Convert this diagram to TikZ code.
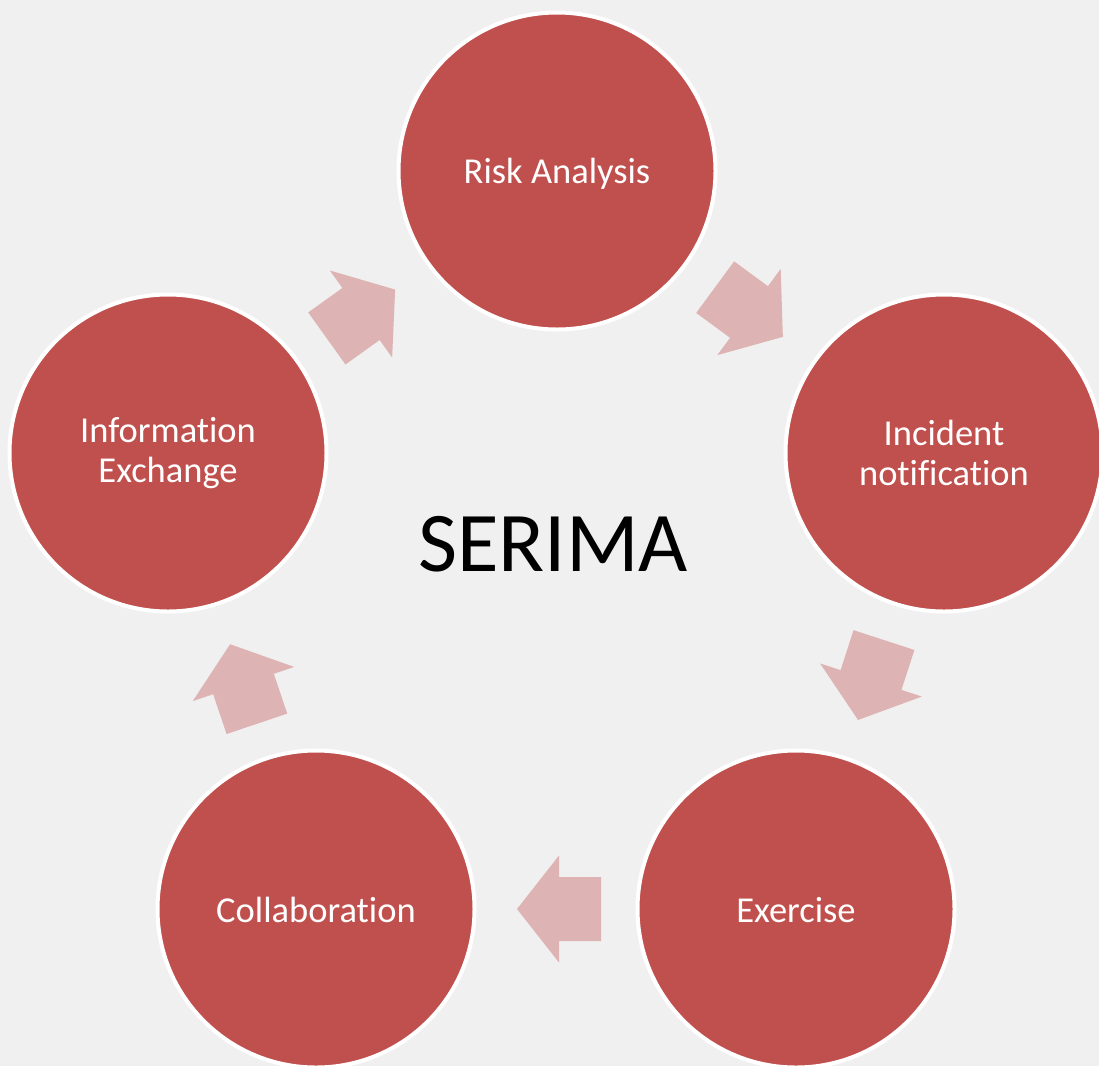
\documentclass[tikz,border=0pt]{standalone}
\usepackage{fontspec}
\setmainfont{Carlito}[RawFeature=-liga]
\definecolor{bgc}{HTML}{F0F0F0}
\definecolor{circfill}{HTML}{C0504D}
\definecolor{arrfill}{HTML}{DEB3B3}
\tikzset{
  stage/.style={circle, fill=circfill, draw=white, line width=4pt, minimum size=317pt, inner sep=0pt},
  stagetext/.style={text=white, align=center, inner sep=0pt, font=\fontsize{36.5}{40}\selectfont},
  blockarrow/.pic={
    \fill[arrfill] (-42,-32) -- (0,-32) -- (0,-53.5) -- (42,0) -- (0,53.5) -- (0,32) -- (-42,32) -- cycle;
  }
}
\begin{document}
\begin{tikzpicture}[x=1pt,y=-1pt]
\fill[bgc] (0,0) rectangle (1099,1066);
\useasboundingbox (0,0) rectangle (1099,1066);

\node[stage] (risk) at (557,171) {};
\node[stage] (incident) at (944,453) {};
\node[stage] (exercise) at (796,909) {};
\node[stage] (collab) at (316,909) {};
\node[stage] (info) at (168,453) {};

\node[stagetext] (riskt) at (557,174) {Risk Analysis};
\node[stagetext] (incidentt) at (944,453) {Incident\\notification};
\node[stagetext] (exerciset) at (796,910) {Exercise};
\node[stagetext] (collabt) at (316,910) {Collaboration};
\node[stagetext] (infot) at (168,453) {Information\\Exchange};

\node[font=\fontsize{85}{90}\selectfont, text=black, inner sep=0pt] (title) at (553,544) {SERIMA};

\pic[rotate=35.6] at (361,314) {blockarrow};
\pic[rotate=-36.3] at (749,312) {blockarrow};
\pic[rotate=-108] at (871,680) {blockarrow};
\pic[rotate=180] at (559,909) {blockarrow};
\pic[rotate=108.6] at (243.5,684) {blockarrow};
\end{tikzpicture}
\end{document}
